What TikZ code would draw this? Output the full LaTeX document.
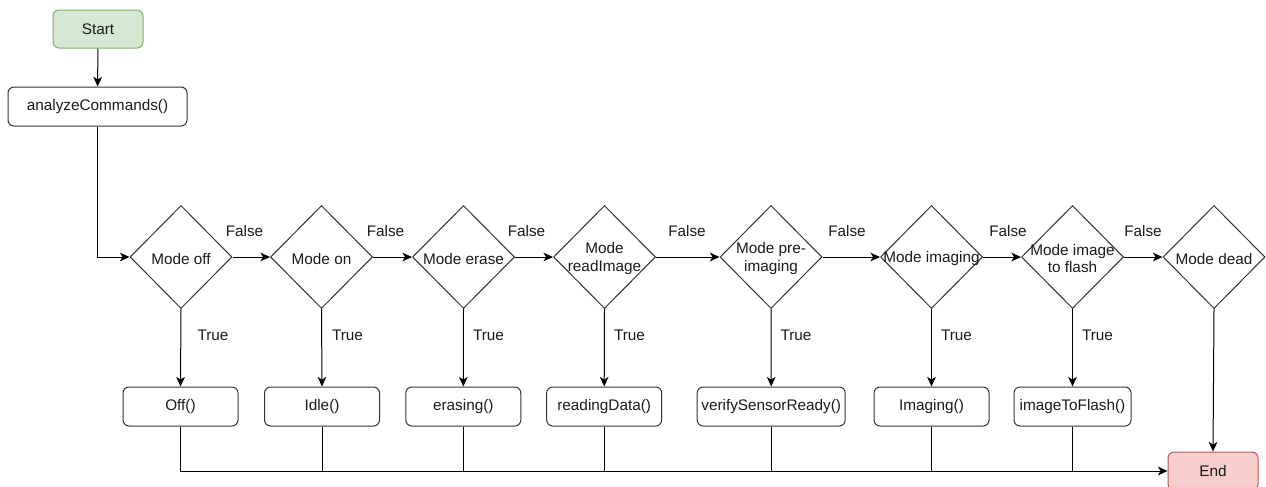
\documentclass[tikz,border=0pt]{standalone}
\usepackage{fontspec}
\setmainfont{Liberation Sans}
\usetikzlibrary{shapes.geometric,arrows.meta}
\definecolor{startfill}{HTML}{D5E8D4}
\definecolor{startline}{HTML}{82B366}
\definecolor{endfill}{HTML}{F8CECC}
\definecolor{endline}{HTML}{B85450}
\definecolor{ink}{HTML}{333333}
\definecolor{txt}{HTML}{1A1A1A}
\begin{document}
\begin{tikzpicture}[x=0.75pt,y=-0.75pt,
  font=\fontsize{11.5}{13.2}\selectfont,
  every node/.style={text=txt},
  procbox/.style={draw=ink, rounded corners=4.5pt, line width=0.75pt,
    minimum height=29.25pt, minimum width=86.25pt, inner sep=0pt},
  termbox/.style={procbox, minimum width=67.5pt, minimum height=28.5pt},
  decision/.style={draw=ink, diamond, line width=0.75pt, inner sep=0pt,
    minimum width=76.5pt, minimum height=77.25pt},
  dtext/.style={align=center, inner sep=0pt},
  lbl/.style={inner sep=0pt},
  flow/.style={draw=black, line width=0.75pt},
  arrow/.style={flow, -{Stealth[length=7.2pt,width=6.5pt,inset=2pt]}}
]
\useasboundingbox (0,0) rectangle (1266,486);

% terminals and setup step
\node[termbox, fill=startfill, draw=startline] (start) at (98,29) {Start};
\node[procbox, minimum width=134.25pt] (an) at (97.5,106.5) {analyzeCommands()};
\node[termbox, fill=endfill, draw=endline] (end) at (1213,471) {End};

% mode decisions
\foreach \n/\x/\t in {d1/181/{Mode off}, d2/321.5/{Mode on}, d3/463.5/{Mode erase},
    d4/604.5/{Mode\\readImage}, d5/771/{Mode pre-\\imaging}, d6/931.5/{Mode imaging},
    d7/1072.5/{Mode image\\to flash}, d8/1214/{Mode dead}}{
  \node[decision] (\n) at (\x,257) {};
  \node[dtext] at ([yshift=-1.2pt]\n) {\t};
}

% actions per mode
\node[procbox] (b1) at (180.5,406.5) {Off()};
\node[procbox] (b2) at (322,406.5) {Idle()};
\node[procbox] (b3) at (463.3,406.5) {erasing()};
\node[procbox] (b4) at (604.2,406.5) {readingData()};
\node[procbox, minimum width=111pt] (b5) at (771.2,406.5) {verifySensorReady()};
\node[procbox] (b6) at (931.5,406.5) {Imaging()};
\node[procbox, minimum width=87.75pt] (b7) at (1072.5,406.5) {imageToFlash()};

% main flow
\draw[arrow] (start) -- (an);
\draw[arrow] (an.south) |- (d1.west);
\foreach \a/\b in {d1/d2, d2/d3, d3/d4, d4/d5, d5/d6, d6/d7, d7/d8}
  \draw[arrow] (\a.east) -- (\b.west);
\foreach \i in {1,...,7}
  \draw[arrow] (d\i.south) -- (b\i.north);
\draw[arrow] (d8.south) -- (end.north);

% merge of all actions into End
\draw[arrow] (b1.south) |- (end.west);
\foreach \i in {2,...,7}
  \draw[flow] (b\i.south) -- (b\i.south |- end.west);

% branch labels
\foreach \x in {244.5, 385.5, 526.5, 687, 847, 1008, 1143}
  \node[lbl] at (\x,231.5) {False};
\foreach \x in {213, 347.5, 488.5, 629.5, 796, 956.5, 1097.5}
  \node[lbl] at (\x,335.5) {True};
\end{tikzpicture}
\end{document}
